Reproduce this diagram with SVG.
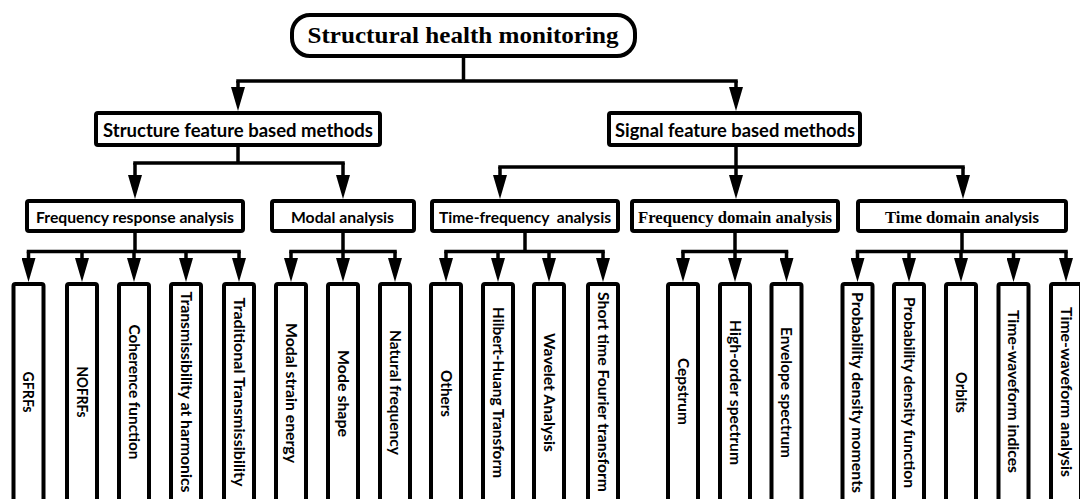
<svg xmlns="http://www.w3.org/2000/svg" width="1080" height="499" viewBox="0 0 1080 499">
<style>
.box{fill:#fff;stroke:#000;stroke-width:4}
.ln{fill:none;stroke:#000;stroke-width:3.5}
.hz{fill:none;stroke:#000;stroke-width:3.5;stroke-linecap:square}
.ar{fill:none;stroke:#000;stroke-width:3.5;marker-end:url(#ah)}
.serif{font-family:"Liberation Serif","Times New Roman",serif;font-weight:bold;fill:#000}
.sans{font-family:Lato,"Open Sans","Liberation Sans",sans-serif;font-weight:bold;fill:#000}
.leaf{font-family:Lato,"Open Sans","Liberation Sans",sans-serif;font-weight:bold;font-size:15px;fill:#000;text-anchor:middle}
</style>
<defs>
<marker id="ah" markerUnits="userSpaceOnUse" viewBox="0 0 24 14" markerWidth="24" markerHeight="14" refX="14" refY="7" orient="auto">
<path d="M0,0 L24,7 L0,14 z" fill="#000"/>
</marker>
</defs>
<rect width="1080" height="499" fill="#fff"/>

<g id="connectors">
<path class="ln" d="M463.5,58 V81"/>
<path class="hz" d="M238,81 H736"/>
<path class="ar" d="M238,81 V101"/>
<path class="ar" d="M736,81 V101"/>

<path class="ln" d="M238,147 V163"/>
<path class="hz" d="M135,163 H343"/>
<path class="ar" d="M135,163 V189"/>
<path class="ar" d="M343,163 V189"/>

<path class="hz" d="M500,167 H963"/>
<path class="ar" d="M736,147 V189"/>
<path class="ar" d="M500,167 V189"/>
<path class="ar" d="M963,167 V189"/>

<path class="ln" d="M135,233 V251.5"/>
<path class="hz" d="M28.5,251.5 H239"/>
<path class="ln" d="M343,233 V251.5"/>
<path class="hz" d="M291,251.5 H395"/>
<path class="ln" d="M525,233 V251.5"/>
<path class="hz" d="M446,251.5 H603"/>
<path class="ln" d="M735,233 V251.5"/>
<path class="hz" d="M683,251.5 H786.5"/>
<path class="ln" d="M962,233 V251.5"/>
<path class="hz" d="M857.5,251.5 H1066"/>

<path class="ar" d="M28.5,251.5 V272"/>
<path class="ar" d="M82,251.5 V272"/>
<path class="ar" d="M134,251.5 V272"/>
<path class="ar" d="M186,251.5 V272"/>
<path class="ar" d="M239,251.5 V272"/>
<path class="ar" d="M291,251.5 V272"/>
<path class="ar" d="M343,251.5 V272"/>
<path class="ar" d="M395,251.5 V272"/>
<path class="ar" d="M446,251.5 V272"/>
<path class="ar" d="M498,251.5 V272"/>
<path class="ar" d="M549,251.5 V272"/>
<path class="ar" d="M603,251.5 V272"/>
<path class="ar" d="M683,251.5 V272"/>
<path class="ar" d="M735,251.5 V272"/>
<path class="ar" d="M786.5,251.5 V272"/>
<path class="ar" d="M857.5,251.5 V272"/>
<path class="ar" d="M909,251.5 V272"/>
<path class="ar" d="M961,251.5 V272"/>
<path class="ar" d="M1013.5,251.5 V272"/>
<path class="ar" d="M1066,251.5 V272"/>
</g>

<g id="root">
<rect class="box" x="292" y="15" width="343" height="41" rx="18"/>
<text class="serif" x="463" y="43" font-size="24" text-anchor="middle" textLength="311" lengthAdjust="spacingAndGlyphs">Structural health monitoring</text>
</g>

<g id="structure">
<rect class="box" x="96" y="113" width="284" height="32" rx="2"/>
<text class="sans" x="238" y="137" font-size="18" text-anchor="middle" textLength="270" lengthAdjust="spacingAndGlyphs">Structure feature based methods</text>
</g>
<g id="signal">
<rect class="box" x="609" y="113" width="251" height="32" rx="2"/>
<text class="sans" x="735" y="137" font-size="18" text-anchor="middle" textLength="240" lengthAdjust="spacingAndGlyphs">Signal feature based methods</text>
</g>

<g id="freq-response">
<rect class="box" x="27" y="201" width="216" height="30" rx="2"/>
<text class="sans" x="135" y="223" font-size="16" text-anchor="middle" textLength="198" lengthAdjust="spacingAndGlyphs">Frequency response analysis</text>
</g>
<g id="modal">
<rect class="box" x="272" y="201" width="142" height="30" rx="2"/>
<text class="sans" x="342.5" y="223" font-size="16" text-anchor="middle" textLength="103" lengthAdjust="spacingAndGlyphs">Modal analysis</text>
</g>
<g id="time-frequency">
<rect class="box" x="432" y="201" width="186" height="30" rx="2"/>
<text class="sans" x="525" y="223" font-size="16" text-anchor="middle" textLength="172" lengthAdjust="spacingAndGlyphs" xml:space="preserve">Time-frequency  analysis</text>
</g>
<g id="freq-domain">
<rect class="box" x="632" y="201" width="206" height="30" rx="2"/>
<text class="serif" x="735" y="223" font-size="17" text-anchor="middle" textLength="194" lengthAdjust="spacingAndGlyphs">Frequency domain analysis</text>
</g>
<g id="time-domain">
<rect class="box" x="858" y="201" width="208" height="30" rx="2"/>
<text y="223"><tspan class="serif" x="885" font-size="17" textLength="95" lengthAdjust="spacingAndGlyphs">Time domain</tspan><tspan class="sans" x="985" font-size="16" textLength="54" lengthAdjust="spacingAndGlyphs">analysis</tspan></text>
</g>

<g id="leaf-gfrfs"><rect class="box" x="13.5" y="284" width="30" height="240" rx="2"/><text class="leaf" transform="translate(28.5,392) rotate(90)" y="5.5" textLength="41" lengthAdjust="spacingAndGlyphs">GFRFs</text></g>
<g id="leaf-nofrfs"><rect class="box" x="67" y="284" width="30" height="240" rx="2"/><text class="leaf" transform="translate(82,392) rotate(90)" y="5.5" textLength="51" lengthAdjust="spacingAndGlyphs">NOFRFs</text></g>
<g id="leaf-coherence"><rect class="box" x="119" y="284" width="30" height="240" rx="2"/><text class="leaf" transform="translate(134,392) rotate(90)" y="5.5" textLength="135" lengthAdjust="spacingAndGlyphs">Coherence function</text></g>
<g id="leaf-trans-harm"><rect class="box" x="171" y="284" width="30" height="240" rx="2"/><text class="leaf" transform="translate(186,392) rotate(90)" y="5.5" textLength="201" lengthAdjust="spacingAndGlyphs">Transmissibility at harmonics</text></g>
<g id="leaf-trad-trans"><rect class="box" x="224" y="284" width="30" height="240" rx="2"/><text class="leaf" transform="translate(239,392) rotate(90)" y="5.5" textLength="189" lengthAdjust="spacingAndGlyphs">Traditional Transmissibility</text></g>
<g id="leaf-modal-strain"><rect class="box" x="276" y="284" width="30" height="240" rx="2"/><text class="leaf" transform="translate(291,393) rotate(90)" y="5.5" textLength="140" lengthAdjust="spacingAndGlyphs">Modal strain energy</text></g>
<g id="leaf-mode-shape"><rect class="box" x="328" y="284" width="30" height="240" rx="2"/><text class="leaf" transform="translate(343,393.5) rotate(90)" y="5.5" textLength="87" lengthAdjust="spacingAndGlyphs">Mode shape</text></g>
<g id="leaf-natural"><rect class="box" x="380" y="284" width="30" height="240" rx="2"/><text class="leaf" transform="translate(395,392.5) rotate(90)" y="5.5" textLength="125" lengthAdjust="spacingAndGlyphs">Natural frequency</text></g>
<g id="leaf-others"><rect class="box" x="431" y="284" width="30" height="240" rx="2"/><text class="leaf" transform="translate(446,393.5) rotate(90)" y="5.5" textLength="47" lengthAdjust="spacingAndGlyphs">Others</text></g>
<g id="leaf-hht"><rect class="box" x="483" y="284" width="30" height="240" rx="2"/><text class="leaf" transform="translate(498,392.5) rotate(90)" y="5.5" textLength="171" lengthAdjust="spacingAndGlyphs">Hilbert-Huang Transform</text></g>
<g id="leaf-wavelet"><rect class="box" x="534" y="284" width="30" height="240" rx="2"/><text class="leaf" transform="translate(549,392.5) rotate(90)" y="5.5" textLength="119" lengthAdjust="spacingAndGlyphs">Wavelet Analysis</text></g>
<g id="leaf-stft"><rect class="box" x="588" y="284" width="30" height="240" rx="2"/><text class="leaf" transform="translate(603,392) rotate(90)" y="5.5" textLength="200" lengthAdjust="spacingAndGlyphs">Short time Fourier transform</text></g>
<g id="leaf-cepstrum"><rect class="box" x="668" y="284" width="30" height="240" rx="2"/><text class="leaf" transform="translate(683,391.5) rotate(90)" y="5.5" textLength="67" lengthAdjust="spacingAndGlyphs">Cepstrum</text></g>
<g id="leaf-high-order"><rect class="box" x="720" y="284" width="30" height="240" rx="2"/><text class="leaf" transform="translate(735,392.5) rotate(90)" y="5.5" textLength="145" lengthAdjust="spacingAndGlyphs">High-order spectrum</text></g>
<g id="leaf-envelope"><rect class="box" x="771.5" y="284" width="30" height="240" rx="2"/><text class="leaf" transform="translate(786.5,392.5) rotate(90)" y="5.5" textLength="131" lengthAdjust="spacingAndGlyphs">Envelope spectrum</text></g>
<g id="leaf-pd-moments"><rect class="box" x="842.5" y="284" width="30" height="240" rx="2"/><text class="leaf" transform="translate(857.5,392.5) rotate(90)" y="5.5" textLength="201" lengthAdjust="spacingAndGlyphs">Probability density moments</text></g>
<g id="leaf-pd-function"><rect class="box" x="894" y="284" width="30" height="240" rx="2"/><text class="leaf" transform="translate(909,392.5) rotate(90)" y="5.5" textLength="191" lengthAdjust="spacingAndGlyphs">Probability density function</text></g>
<g id="leaf-orbits"><rect class="box" x="946" y="284" width="30" height="240" rx="2"/><text class="leaf" transform="translate(961,392.5) rotate(90)" y="5.5" textLength="41" lengthAdjust="spacingAndGlyphs">Orbits</text></g>
<g id="leaf-tw-indices"><rect class="box" x="998.5" y="284" width="30" height="240" rx="2"/><text class="leaf" transform="translate(1013.5,391.5) rotate(90)" y="5.5" textLength="163" lengthAdjust="spacingAndGlyphs">Time-waveform indices</text></g>
<g id="leaf-tw-analysis"><rect class="box" x="1051" y="284" width="30" height="240" rx="2"/><text class="leaf" transform="translate(1066,392) rotate(90)" y="5.5" textLength="170" lengthAdjust="spacingAndGlyphs">Time-waveform analysis</text></g>
</svg>
